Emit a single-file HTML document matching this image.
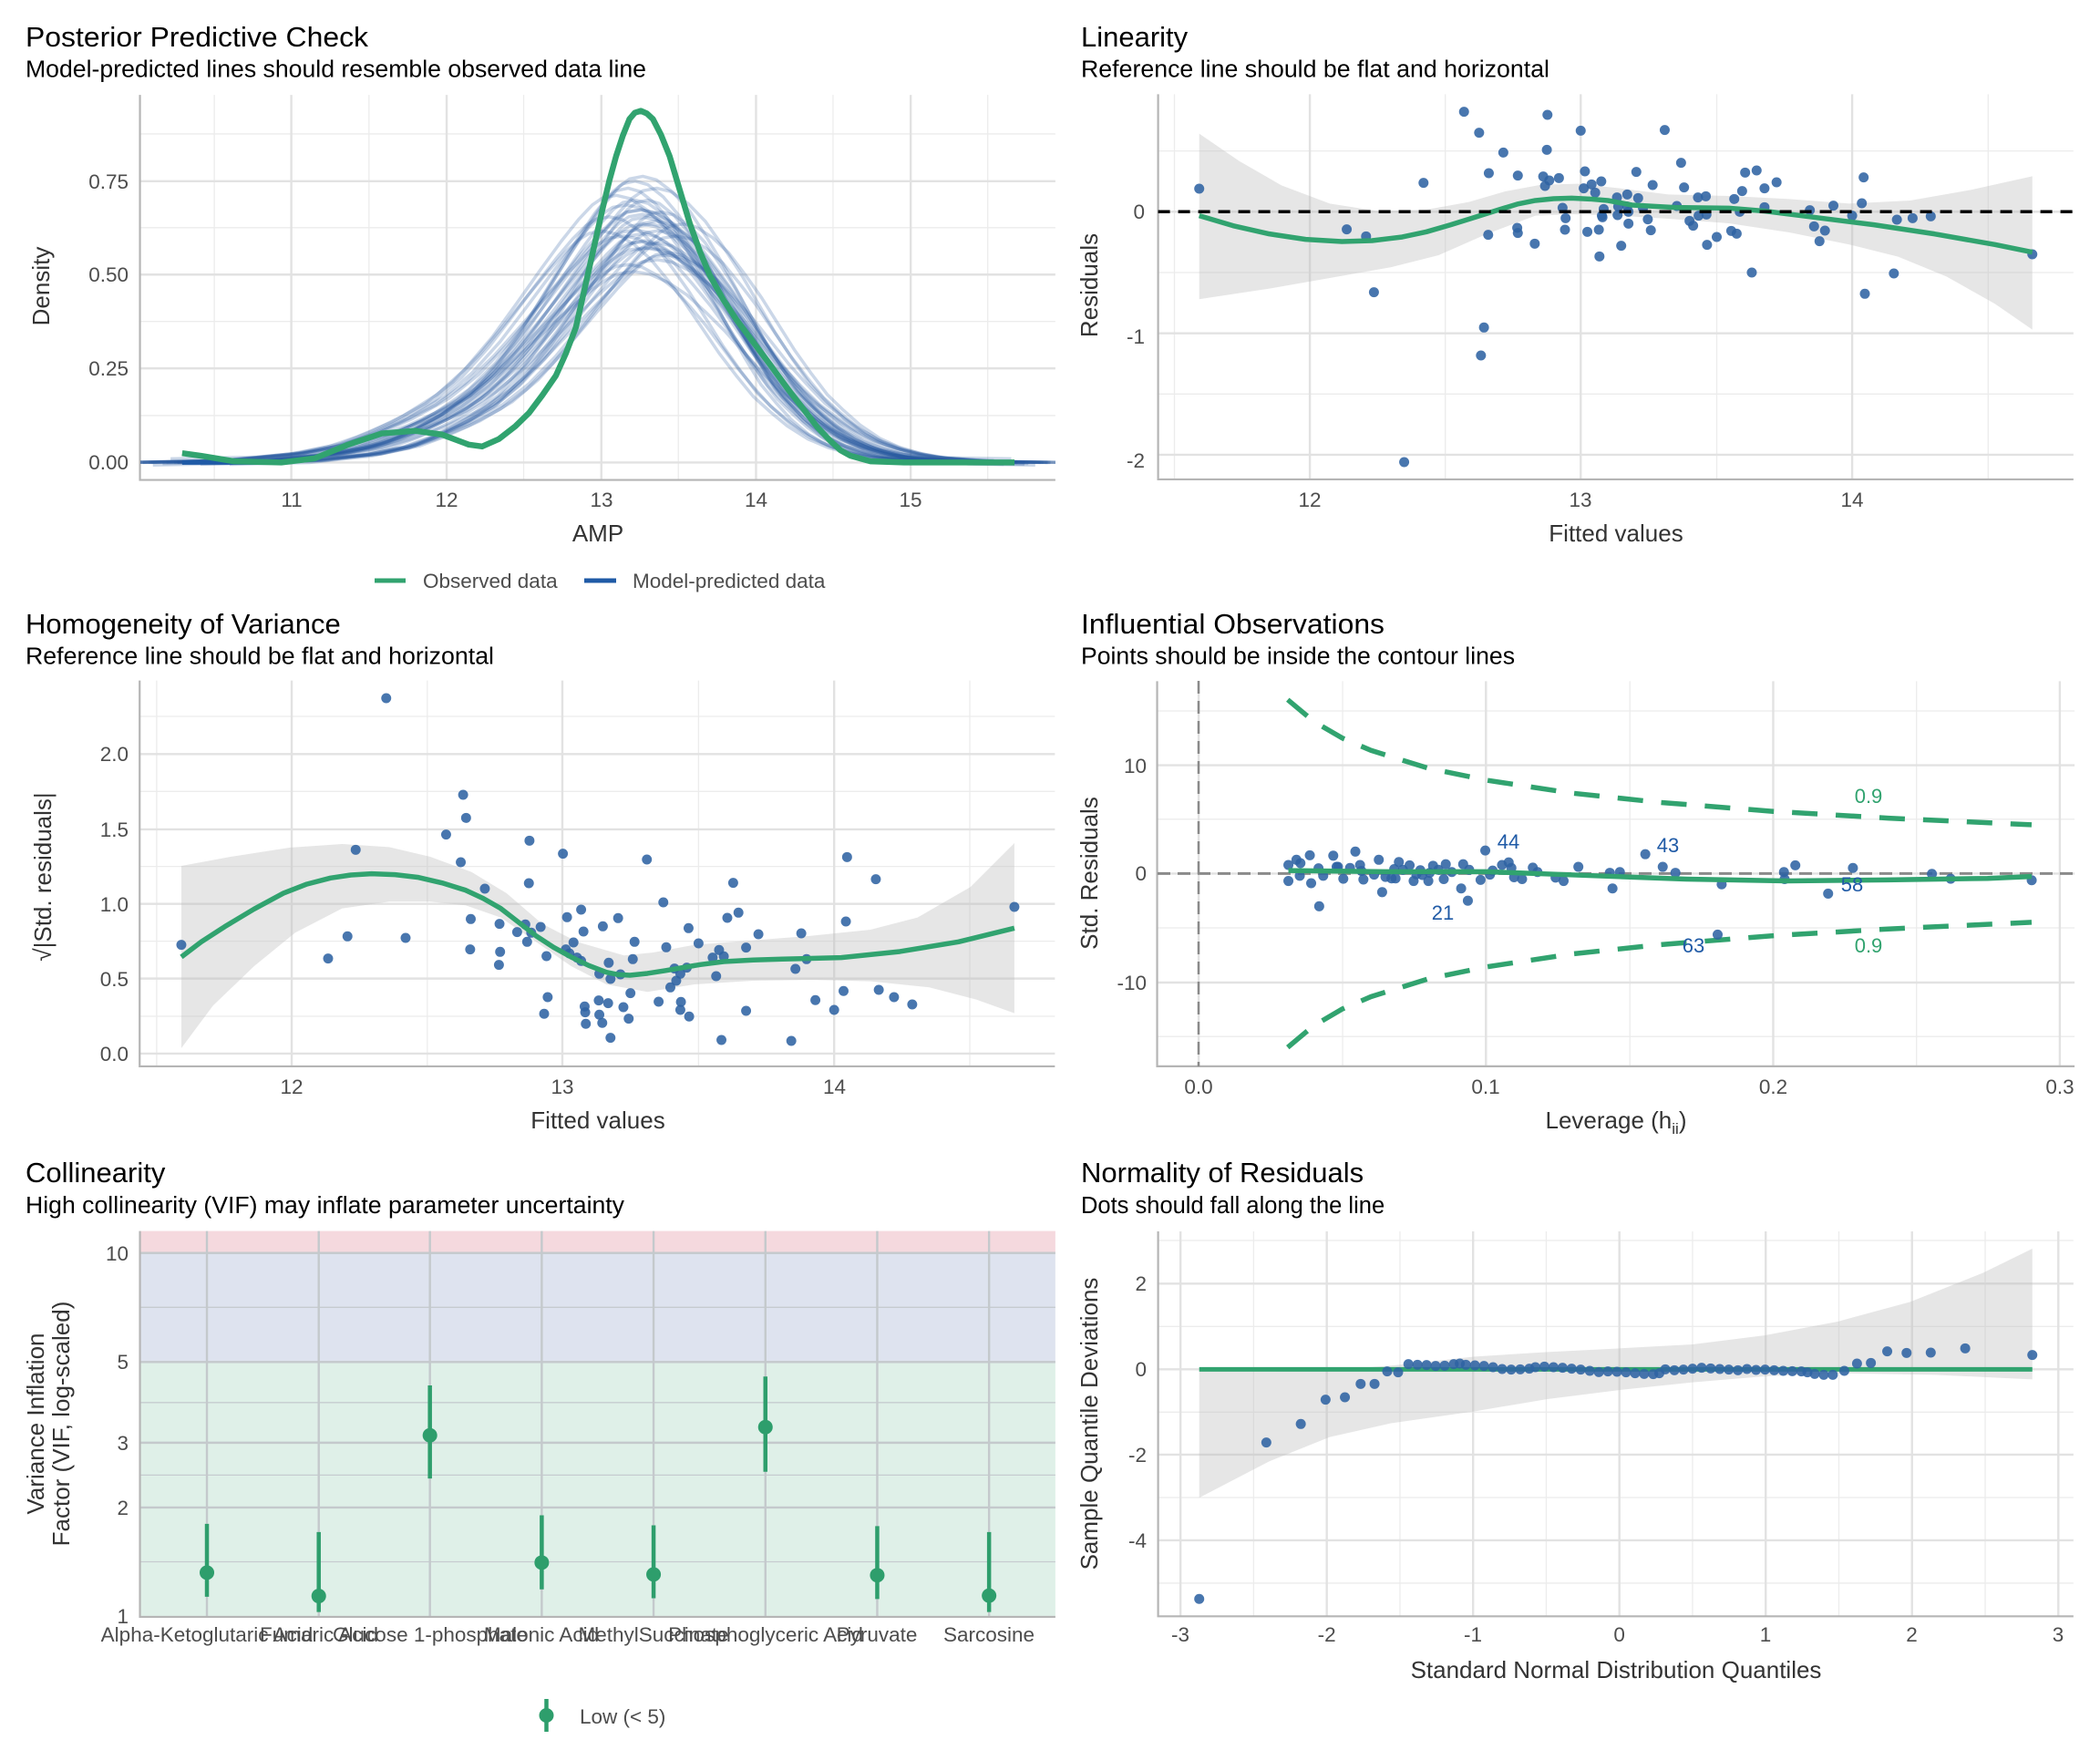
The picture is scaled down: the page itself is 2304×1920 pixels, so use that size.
<!DOCTYPE html>
<html><head><meta charset="utf-8"><style>
html,body{margin:0;padding:0;background:#fff}
svg{display:block}
text{font-family:"Liberation Sans",Arial,sans-serif}
.t{font-size:31px;fill:#000}
.s{font-size:25.5px;fill:#000}
.k{font-size:22.5px;fill:#4d4d4d}
.a{font-size:26px;fill:#333}
.gM{stroke:#e2e2e2;stroke-width:2.4;vector-effect:non-scaling-stroke;fill:none}
.gm{stroke:#ececec;stroke-width:1.3;vector-effect:non-scaling-stroke;fill:none}
.ax{stroke:#b5b5b5;stroke-width:2.2;vector-effect:non-scaling-stroke;fill:none}
.ns{vector-effect:non-scaling-stroke}
</style></head><body>
<svg width="2304" height="1920" viewBox="0 0 2304 1920" xmlns="http://www.w3.org/2000/svg">
<rect width="2304" height="1920" fill="#fff"/>
<defs>
  <clipPath id="c1"><rect x="154" y="100" width="1004" height="426"/></clipPath>
</defs>

<!-- ============ PANEL 1: PPC ============ -->
<text class="t" x="28" y="51" textLength="376" lengthAdjust="spacingAndGlyphs">Posterior Predictive Check</text>
<text class="s" x="28" y="84.5" textLength="681" lengthAdjust="spacingAndGlyphs">Model-predicted lines should resemble observed data line</text>
<g transform="matrix(0.7347 0 0 0.4082 0 0)">
  <path class="gm" d="M320 255V1290M551 255V1290M782 255V1290M1013 255V1290M1244 255V1290M1475 255V1290M209 1117H1576M209 864H1576M209 612H1576M209 360H1576"/>
  <path class="gM" d="M435 255V1290M667 255V1290M898 255V1290M1129 255V1290M1360 255V1290M209 1243H1576M209 990H1576M209 738H1576M209 487H1576"/>
  <path class="ax" d="M209 255V1290H1576"/>
</g>
<g clip-path="url(#c1)">
<g transform="matrix(0.7347 0 0 0.4082 0 0)">
  <defs>
    <polyline id="pp" fill="none" stroke="#2557a0" stroke-width="3.5" stroke-opacity="0.24" vector-effect="non-scaling-stroke" stroke-linejoin="round" points="272,1243 400,1238 500,1220 560,1198 600,1172 650,1132 700,1080 740,1020 780,942 815,862 850,780 880,712 905,660 925,625 940,608 960,602 980,610 1005,638 1030,680 1055,738 1080,800 1105,870 1130,940 1155,1002 1180,1060 1205,1103 1230,1142 1260,1178 1290,1202 1320,1218 1350,1229 1420,1240 1515,1243"/>
  </defs>
  <use href="#pp"/>
  <use href="#pp" transform="translate(37,-124.3) scale(0.95,1.1)"/>
  <use href="#pp" transform="translate(-37,124.3) scale(1.05,0.9)"/>
  <use href="#pp" transform="translate(74,-186.5) scale(0.9,1.15)"/>
  <use href="#pp" transform="translate(-74,186.5) scale(1.1,0.85)"/>
  <use href="#pp" transform="translate(0,-248.6) scale(1,1.2)"/>
  <use href="#pp" transform="translate(105.2,-62.2) scale(0.92,1.05)"/>
  <use href="#pp" transform="translate(-105.2,62.2) scale(1.08,0.95)"/>
  <use href="#pp" transform="translate(68.2,149.2) scale(0.97,0.88)"/>
  <use href="#pp" transform="translate(-68.2,-149.2) scale(1.03,1.12)"/>
  <use href="#pp" transform="translate(127.8,0) scale(0.88,1)"/>
  <use href="#pp" transform="translate(-127.8,248.6) scale(1.12,0.8)"/>
  <use href="#pp" transform="translate(72,99.4) scale(0.95,0.92)"/>
  <use href="#pp" transform="translate(-72,-99.4) scale(1.05,1.08)"/>
  <use href="#pp" transform="translate(50,62.2) scale(1,0.95)"/>
  <use href="#pp" transform="translate(-50,-37.3) scale(1,1.03)"/>
  <use href="#pp" transform="translate(99,87) scale(0.9,0.93)"/>
  <use href="#pp" transform="translate(-99,-74.6) scale(1.1,1.06)"/>
  <use href="#pp" transform="translate(55.8,-223.7) scale(0.93,1.18)"/>
  <use href="#pp" transform="translate(-30.8,161.6) scale(1.07,0.87)"/>
  <use href="#pp" transform="translate(78.8,0) scale(0.98,1)"/>
  <use href="#pp" transform="translate(-78.8,37.3) scale(1.02,0.97)"/>
  <use href="#pp" transform="translate(141.6,-124.3) scale(0.86,1.1)"/>
  <use href="#pp" transform="translate(-131.6,124.3) scale(1.14,0.9)"/>
  <use href="#pp" transform="translate(17.6,211.3) scale(0.96,0.83)"/>
  <use href="#pp" transform="translate(-17.6,-186.5) scale(1.04,1.15)"/>
  <use href="#pp" transform="translate(30,-20) scale(0.99,1.02)"/>
  <use href="#pp" transform="translate(-20,40) scale(1.01,0.96)"/>
  <use href="#pp" transform="translate(90,30) scale(0.93,0.98)"/>
  <use href="#pp" transform="translate(-60,-80) scale(1.06,1.07)"/>
  <use href="#pp" transform="translate(10,50) scale(0.99,0.96)"/>
  <use href="#pp" transform="translate(-10,-50) scale(1.01,1.04)"/>
  <use href="#pp" transform="translate(60,-30) scale(0.94,1.02)"/>
  <use href="#pp" transform="translate(-40,90) scale(1.04,0.93)"/>
  <polyline fill="none" stroke="#1f5aa6" stroke-width="5" class="ns" points="272,1243 420,1243"/>
  <polyline fill="none" stroke="#31a36f" stroke-width="6.5" class="ns" stroke-linejoin="round" points="272,1218 300,1225 350,1240 420,1243 470,1232 520,1195 570,1165 620,1158 660,1168 700,1195 720,1200 745,1180 770,1145 790,1110 810,1062 830,1010 845,950 860,880 870,800 880,720 890,640 900,560 910,485 920,420 930,365 940,320 948,303 957,298 966,305 975,320 987,362 1000,420 1015,510 1030,600 1045,675 1060,740 1080,805 1100,860 1125,920 1150,980 1175,1042 1200,1100 1220,1147 1240,1185 1255,1210 1270,1225 1300,1240 1350,1243 1515,1243"/>
</g>
</g>
<g class="k" text-anchor="end">
  <text x="141" y="515">0.00</text><text x="141" y="412">0.25</text><text x="141" y="309">0.50</text><text x="141" y="207">0.75</text>
</g>
<g class="k" text-anchor="middle">
  <text x="320" y="556">11</text><text x="490" y="556">12</text><text x="660" y="556">13</text><text x="829.5" y="556">14</text><text x="999" y="556">15</text>
</g>
<text class="a" x="656" y="594" text-anchor="middle">AMP</text>
<text class="a" transform="translate(54,314) rotate(-90)" text-anchor="middle">Density</text>
<line x1="411" y1="637" x2="445" y2="637" stroke="#31a36f" stroke-width="5"/>
<text class="k" x="464" y="645">Observed data</text>
<line x1="641" y1="637" x2="676" y2="637" stroke="#1f5aa6" stroke-width="5"/>
<text class="k" x="694" y="645">Model-predicted data</text>

<!-- ============ PANEL 2: Linearity ============ -->
<text class="t" x="1186" y="51">Linearity</text>
<text class="s" x="1186" y="84.5" textLength="514" lengthAdjust="spacingAndGlyphs">Reference line should be flat and horizontal</text>
<g transform="matrix(0.6633 0 0 0.3333 1260 100)">
  <path class="gm" d="M16 197H1530M16 597H1530M16 997H1530M43 10V1278M491 10V1278M940 10V1278M1389 10V1278"/>
  <path class="gM" d="M16 397H1530M16 797H1530M16 1197H1530M267 10V1278M715 10V1278M1164 10V1278"/>
  <path class="ax" d="M16 10V1278H1530"/>
  <polygon fill="#bdbdbd" fill-opacity="0.38" points="84,140 150,230 220,310 300,370 380,395 460,390 530,365 590,330 650,308 710,305 780,320 860,340 960,345 1060,355 1160,370 1260,360 1360,325 1462,280 1462,785 1400,700 1320,610 1240,545 1160,505 1060,465 960,435 860,420 780,410 700,405 640,410 560,470 480,540 400,580 300,615 200,650 84,685"/>
  <g fill="#2f63a3" fill-opacity="0.88">
  <ellipse cx="84" cy="321" rx="8.3" ry="16.5"/><ellipse cx="522" cy="68" rx="8.3" ry="16.5"/><ellipse cx="660" cy="78" rx="8.3" ry="16.5"/><ellipse cx="547" cy="137" rx="8.3" ry="16.5"/><ellipse cx="715" cy="130" rx="8.3" ry="16.5"/><ellipse cx="854" cy="128" rx="8.3" ry="16.5"/><ellipse cx="587" cy="202" rx="8.3" ry="16.5"/><ellipse cx="659" cy="193" rx="8.3" ry="16.5"/><ellipse cx="455" cy="302" rx="8.3" ry="16.5"/><ellipse cx="563" cy="270" rx="8.3" ry="16.5"/><ellipse cx="611" cy="278" rx="8.3" ry="16.5"/><ellipse cx="653" cy="281" rx="8.3" ry="16.5"/><ellipse cx="663" cy="294" rx="8.3" ry="16.5"/><ellipse cx="679" cy="286" rx="8.3" ry="16.5"/><ellipse cx="656" cy="312" rx="8.3" ry="16.5"/><ellipse cx="722" cy="264" rx="8.3" ry="16.5"/><ellipse cx="720" cy="320" rx="8.3" ry="16.5"/><ellipse cx="733" cy="307" rx="8.3" ry="16.5"/><ellipse cx="749" cy="297" rx="8.3" ry="16.5"/><ellipse cx="739" cy="334" rx="8.3" ry="16.5"/><ellipse cx="807" cy="266" rx="8.3" ry="16.5"/><ellipse cx="881" cy="236" rx="8.3" ry="16.5"/><ellipse cx="834" cy="309" rx="8.3" ry="16.5"/><ellipse cx="886" cy="317" rx="8.3" ry="16.5"/><ellipse cx="775" cy="350" rx="8.3" ry="16.5"/><ellipse cx="792" cy="340" rx="8.3" ry="16.5"/><ellipse cx="810" cy="352" rx="8.3" ry="16.5"/><ellipse cx="909" cy="350" rx="8.3" ry="16.5"/><ellipse cx="922" cy="346" rx="8.3" ry="16.5"/><ellipse cx="969" cy="355" rx="8.3" ry="16.5"/><ellipse cx="982" cy="329" rx="8.3" ry="16.5"/><ellipse cx="987" cy="268" rx="8.3" ry="16.5"/><ellipse cx="1006" cy="261" rx="8.3" ry="16.5"/><ellipse cx="1019" cy="320" rx="8.3" ry="16.5"/><ellipse cx="1039" cy="300" rx="8.3" ry="16.5"/><ellipse cx="685" cy="384" rx="8.3" ry="16.5"/><ellipse cx="753" cy="388" rx="8.3" ry="16.5"/><ellipse cx="777" cy="380" rx="8.3" ry="16.5"/><ellipse cx="792" cy="380" rx="8.3" ry="16.5"/><ellipse cx="818" cy="385" rx="8.3" ry="16.5"/><ellipse cx="874" cy="378" rx="8.3" ry="16.5"/><ellipse cx="1019" cy="382" rx="8.3" ry="16.5"/><ellipse cx="1094" cy="392" rx="8.3" ry="16.5"/><ellipse cx="1133" cy="377" rx="8.3" ry="16.5"/><ellipse cx="1180" cy="369" rx="8.3" ry="16.5"/><ellipse cx="1183" cy="284" rx="8.3" ry="16.5"/><ellipse cx="690" cy="418" rx="8.3" ry="16.5"/><ellipse cx="750" cy="410" rx="8.3" ry="16.5"/><ellipse cx="751" cy="415" rx="8.3" ry="16.5"/><ellipse cx="776" cy="408" rx="8.3" ry="16.5"/><ellipse cx="794" cy="397" rx="8.3" ry="16.5"/><ellipse cx="826" cy="422" rx="8.3" ry="16.5"/><ellipse cx="895" cy="427" rx="8.3" ry="16.5"/><ellipse cx="910" cy="410" rx="8.3" ry="16.5"/><ellipse cx="923" cy="406" rx="8.3" ry="16.5"/><ellipse cx="978" cy="397" rx="8.3" ry="16.5"/><ellipse cx="1164" cy="410" rx="8.3" ry="16.5"/><ellipse cx="1238" cy="423" rx="8.3" ry="16.5"/><ellipse cx="1264" cy="418" rx="8.3" ry="16.5"/><ellipse cx="1294" cy="412" rx="8.3" ry="16.5"/><ellipse cx="328" cy="455" rx="8.3" ry="16.5"/><ellipse cx="360" cy="478" rx="8.3" ry="16.5"/><ellipse cx="562" cy="473" rx="8.3" ry="16.5"/><ellipse cx="610" cy="450" rx="8.3" ry="16.5"/><ellipse cx="611" cy="467" rx="8.3" ry="16.5"/><ellipse cx="639" cy="502" rx="8.3" ry="16.5"/><ellipse cx="689" cy="456" rx="8.3" ry="16.5"/><ellipse cx="726" cy="463" rx="8.3" ry="16.5"/><ellipse cx="745" cy="456" rx="8.3" ry="16.5"/><ellipse cx="746" cy="544" rx="8.3" ry="16.5"/><ellipse cx="782" cy="509" rx="8.3" ry="16.5"/><ellipse cx="794" cy="436" rx="8.3" ry="16.5"/><ellipse cx="831" cy="458" rx="8.3" ry="16.5"/><ellipse cx="901" cy="443" rx="8.3" ry="16.5"/><ellipse cx="924" cy="506" rx="8.3" ry="16.5"/><ellipse cx="940" cy="480" rx="8.3" ry="16.5"/><ellipse cx="964" cy="460" rx="8.3" ry="16.5"/><ellipse cx="973" cy="469" rx="8.3" ry="16.5"/><ellipse cx="1101" cy="445" rx="8.3" ry="16.5"/><ellipse cx="1110" cy="494" rx="8.3" ry="16.5"/><ellipse cx="1119" cy="459" rx="8.3" ry="16.5"/><ellipse cx="998" cy="597" rx="8.3" ry="16.5"/><ellipse cx="1233" cy="600" rx="8.3" ry="16.5"/><ellipse cx="1185" cy="667" rx="8.3" ry="16.5"/><ellipse cx="373" cy="662" rx="8.3" ry="16.5"/><ellipse cx="1462" cy="537" rx="8.3" ry="16.5"/><ellipse cx="555" cy="778" rx="8.3" ry="16.5"/><ellipse cx="550" cy="870" rx="8.3" ry="16.5"/><ellipse cx="423" cy="1221" rx="8.3" ry="16.5"/>
  </g>
  <polyline fill="none" stroke="#31a36f" stroke-width="5.5" class="ns" stroke-linejoin="round" points="84,410 140,443 200,470 260,488 320,495 370,492 420,480 460,463 500,440 540,415 580,390 610,372 640,360 670,354 700,352 730,355 760,360 800,375 870,383 960,385 1020,395 1100,415 1200,440 1300,470 1400,505 1462,530"/>
</g>
<line x1="1270.6" y1="232.3" x2="2274.6" y2="232.3" stroke="#000" stroke-width="3.5" stroke-dasharray="13 9"/>
<g class="k" text-anchor="end">
  <text x="1256" y="240">0</text><text x="1256" y="377">-1</text><text x="1256" y="513">-2</text>
</g>
<g class="k" text-anchor="middle">
  <text x="1437" y="556">12</text><text x="1734" y="556">13</text><text x="2032" y="556">14</text>
</g>
<text class="a" x="1773" y="594" text-anchor="middle">Fitted values</text>
<text class="a" transform="translate(1204,313) rotate(-90)" text-anchor="middle">Residuals</text>

<!-- ============ PANEL 3: Homogeneity ============ -->
<text class="t" x="28" y="695">Homogeneity of Variance</text>
<text class="s" x="28" y="728.6" textLength="514" lengthAdjust="spacingAndGlyphs">Reference line should be flat and horizontal</text>
<g transform="matrix(0.6441 0 0 0.3333 150 740)">
  <path class="gm" d="M5 1125H1564M5 878H1564M5 632H1564M5 385H1564M5 138H1564M34 20V1290M495 20V1290M957 20V1290M1419 20V1290"/>
  <path class="gM" d="M5 1248H1564M5 1001H1564M5 755H1564M5 510H1564M5 262H1564M264 20V1290M725 20V1290M1188 20V1290"/>
  <path class="ax" d="M5 20V1290H1564"/>
  <polygon fill="#bdbdbd" fill-opacity="0.38" points="76,630 160,600 260,570 350,558 430,568 500,600 570,650 630,720 690,820 750,880 830,925 880,915 950,890 1050,875 1150,860 1250,840 1330,800 1420,700 1495,555 1495,1115 1430,1070 1350,1030 1250,1010 1150,1005 1050,1008 950,1020 870,1045 800,1020 740,960 680,880 620,800 560,760 500,748 430,748 350,770 270,850 200,960 130,1090 76,1230"/>
  <g fill="#2f63a3" fill-opacity="0.88">
  <ellipse cx="425" cy="78" rx="8.5" ry="16.5"/><ellipse cx="556" cy="396" rx="8.5" ry="16.5"/><ellipse cx="561" cy="472" rx="8.5" ry="16.5"/><ellipse cx="527" cy="527" rx="8.5" ry="16.5"/><ellipse cx="669" cy="547" rx="8.5" ry="16.5"/><ellipse cx="726" cy="590" rx="8.5" ry="16.5"/><ellipse cx="869" cy="609" rx="8.5" ry="16.5"/><ellipse cx="373" cy="577" rx="8.5" ry="16.5"/><ellipse cx="552" cy="618" rx="8.5" ry="16.5"/><ellipse cx="1210" cy="601" rx="8.5" ry="16.5"/><ellipse cx="1259" cy="674" rx="8.5" ry="16.5"/><ellipse cx="593" cy="705" rx="8.5" ry="16.5"/><ellipse cx="668" cy="687" rx="8.5" ry="16.5"/><ellipse cx="1016" cy="686" rx="8.5" ry="16.5"/><ellipse cx="897" cy="750" rx="8.5" ry="16.5"/><ellipse cx="757" cy="774" rx="8.5" ry="16.5"/><ellipse cx="733" cy="799" rx="8.5" ry="16.5"/><ellipse cx="820" cy="802" rx="8.5" ry="16.5"/><ellipse cx="1006" cy="801" rx="8.5" ry="16.5"/><ellipse cx="1025" cy="784" rx="8.5" ry="16.5"/><ellipse cx="1495" cy="765" rx="8.5" ry="16.5"/><ellipse cx="569" cy="805" rx="8.5" ry="16.5"/><ellipse cx="618" cy="821" rx="8.5" ry="16.5"/><ellipse cx="662" cy="823" rx="8.5" ry="16.5"/><ellipse cx="688" cy="831" rx="8.5" ry="16.5"/><ellipse cx="794" cy="829" rx="8.5" ry="16.5"/><ellipse cx="940" cy="835" rx="8.5" ry="16.5"/><ellipse cx="648" cy="848" rx="8.5" ry="16.5"/><ellipse cx="672" cy="850" rx="8.5" ry="16.5"/><ellipse cx="761" cy="846" rx="8.5" ry="16.5"/><ellipse cx="1059" cy="855" rx="8.5" ry="16.5"/><ellipse cx="1132" cy="852" rx="8.5" ry="16.5"/><ellipse cx="76" cy="890" rx="8.5" ry="16.5"/><ellipse cx="359" cy="862" rx="8.5" ry="16.5"/><ellipse cx="458" cy="867" rx="8.5" ry="16.5"/><ellipse cx="665" cy="880" rx="8.5" ry="16.5"/><ellipse cx="744" cy="882" rx="8.5" ry="16.5"/><ellipse cx="848" cy="880" rx="8.5" ry="16.5"/><ellipse cx="902" cy="898" rx="8.5" ry="16.5"/><ellipse cx="957" cy="885" rx="8.5" ry="16.5"/><ellipse cx="1038" cy="899" rx="8.5" ry="16.5"/><ellipse cx="1208" cy="813" rx="8.5" ry="16.5"/><ellipse cx="326" cy="935" rx="8.5" ry="16.5"/><ellipse cx="568" cy="905" rx="8.5" ry="16.5"/><ellipse cx="619" cy="913" rx="8.5" ry="16.5"/><ellipse cx="698" cy="927" rx="8.5" ry="16.5"/><ellipse cx="731" cy="905" rx="8.5" ry="16.5"/><ellipse cx="737" cy="918" rx="8.5" ry="16.5"/><ellipse cx="750" cy="932" rx="8.5" ry="16.5"/><ellipse cx="757" cy="943" rx="8.5" ry="16.5"/><ellipse cx="804" cy="949" rx="8.5" ry="16.5"/><ellipse cx="845" cy="937" rx="8.5" ry="16.5"/><ellipse cx="992" cy="907" rx="8.5" ry="16.5"/><ellipse cx="981" cy="932" rx="8.5" ry="16.5"/><ellipse cx="1000" cy="928" rx="8.5" ry="16.5"/><ellipse cx="1141" cy="937" rx="8.5" ry="16.5"/><ellipse cx="617" cy="956" rx="8.5" ry="16.5"/><ellipse cx="788" cy="985" rx="8.5" ry="16.5"/><ellipse cx="807" cy="1002" rx="8.5" ry="16.5"/><ellipse cx="824" cy="987" rx="8.5" ry="16.5"/><ellipse cx="916" cy="968" rx="8.5" ry="16.5"/><ellipse cx="926" cy="985" rx="8.5" ry="16.5"/><ellipse cx="937" cy="965" rx="8.5" ry="16.5"/><ellipse cx="919" cy="1008" rx="8.5" ry="16.5"/><ellipse cx="987" cy="993" rx="8.5" ry="16.5"/><ellipse cx="1122" cy="969" rx="8.5" ry="16.5"/><ellipse cx="909" cy="1030" rx="8.5" ry="16.5"/><ellipse cx="841" cy="1049" rx="8.5" ry="16.5"/><ellipse cx="700" cy="1062" rx="8.5" ry="16.5"/><ellipse cx="787" cy="1073" rx="8.5" ry="16.5"/><ellipse cx="803" cy="1082" rx="8.5" ry="16.5"/><ellipse cx="829" cy="1095" rx="8.5" ry="16.5"/><ellipse cx="889" cy="1077" rx="8.5" ry="16.5"/><ellipse cx="927" cy="1078" rx="8.5" ry="16.5"/><ellipse cx="926" cy="1104" rx="8.5" ry="16.5"/><ellipse cx="1156" cy="1072" rx="8.5" ry="16.5"/><ellipse cx="1204" cy="1042" rx="8.5" ry="16.5"/><ellipse cx="1264" cy="1038" rx="8.5" ry="16.5"/><ellipse cx="1290" cy="1062" rx="8.5" ry="16.5"/><ellipse cx="1321" cy="1086" rx="8.5" ry="16.5"/><ellipse cx="1188" cy="1104" rx="8.5" ry="16.5"/><ellipse cx="1038" cy="1107" rx="8.5" ry="16.5"/><ellipse cx="694" cy="1117" rx="8.5" ry="16.5"/><ellipse cx="763" cy="1093" rx="8.5" ry="16.5"/><ellipse cx="764" cy="1112" rx="8.5" ry="16.5"/><ellipse cx="788" cy="1120" rx="8.5" ry="16.5"/><ellipse cx="838" cy="1133" rx="8.5" ry="16.5"/><ellipse cx="941" cy="1126" rx="8.5" ry="16.5"/><ellipse cx="765" cy="1150" rx="8.5" ry="16.5"/><ellipse cx="793" cy="1147" rx="8.5" ry="16.5"/><ellipse cx="807" cy="1196" rx="8.5" ry="16.5"/><ellipse cx="996" cy="1203" rx="8.5" ry="16.5"/><ellipse cx="1115" cy="1206" rx="8.5" ry="16.5"/>
  </g>
  <polyline fill="none" stroke="#31a36f" stroke-width="5.5" class="ns" stroke-linejoin="round" points="76,930 110,880 150,830 200,772 250,720 290,690 330,670 365,660 400,656 440,659 480,668 520,686 560,710 590,737 620,770 650,815 680,860 710,898 740,930 770,958 800,980 820,988 840,990 870,984 900,975 930,965 960,955 1000,945 1050,940 1100,937 1200,932 1300,912 1400,880 1495,835"/>
</g>
<g class="k" text-anchor="end">
  <text x="141" y="1164">0.0</text><text x="141" y="1082">0.5</text><text x="141" y="1000">1.0</text><text x="141" y="918">1.5</text><text x="141" y="835">2.0</text>
</g>
<g class="k" text-anchor="middle">
  <text x="320" y="1200">12</text><text x="617" y="1200">13</text><text x="915.5" y="1200">14</text>
</g>
<text class="a" x="656" y="1238" text-anchor="middle">Fitted values</text>
<text class="a" transform="translate(56,962) rotate(-90)" text-anchor="middle">√|Std. residuals|</text>

<!-- ============ PANEL 4: Influential ============ -->
<text class="t" x="1186" y="695" textLength="333" lengthAdjust="spacingAndGlyphs">Influential Observations</text>
<text class="s" x="1186" y="728.6" textLength="476" lengthAdjust="spacingAndGlyphs">Points should be inside the contour lines</text>
<g transform="matrix(0.7347 0 0 0.4082 1152 640)">
  <path class="gm" d="M160 343H1530M160 634H1530M160 926H1530M160 1218H1530M437 263V1298M866 263V1298M1294 263V1298"/>
  <path class="gM" d="M160 489H1530M160 780H1530M160 1073H1530M222 263V1298M651 263V1298M1080 263V1298M1508 263V1298"/>
  <path class="ax" d="M160 263V1298H1530"/>
</g>
<line x1="1315" y1="747" x2="1315" y2="1170" stroke="#8a8a8a" stroke-width="2.5" stroke-dasharray="14 8"/>
<line x1="1270" y1="958.4" x2="2276" y2="958.4" stroke="#8a8a8a" stroke-width="3" stroke-dasharray="14 8"/>
<polyline fill="none" stroke="#31a36f" stroke-width="5.5" stroke-dasharray="28 20" points="1412.8,767.7 1441.2,791.4 1472.7,809.8 1504.2,823.3 1567.1,842.9 1630.3,855.9 1724.9,870.2 1819.4,880.2 1945.5,890.2 2071.6,897.6 2229,904.9"/>
<polyline fill="none" stroke="#31a36f" stroke-width="5.5" stroke-dasharray="28 20" points="1412.8,1149.1 1441.2,1125.4 1472.7,1107 1504.2,1093.5 1567.1,1073.9 1630.3,1060.9 1724.9,1046.6 1819.4,1036.6 1945.5,1026.6 2071.6,1019.2 2229,1011.9"/>
<g transform="matrix(0.7347 0 0 0.4082 1152 640)">
  <g fill="#2f63a3" fill-opacity="0.88">
  <ellipse cx="356" cy="757" rx="7.5" ry="13.5"/><ellipse cx="356" cy="800" rx="7.5" ry="13.5"/><ellipse cx="368" cy="743" rx="7.5" ry="13.5"/><ellipse cx="374" cy="752" rx="7.5" ry="13.5"/><ellipse cx="373" cy="786" rx="7.5" ry="13.5"/><ellipse cx="388" cy="731" rx="7.5" ry="13.5"/><ellipse cx="390" cy="806" rx="7.5" ry="13.5"/><ellipse cx="401" cy="766" rx="7.5" ry="13.5"/><ellipse cx="402" cy="868" rx="7.5" ry="13.5"/><ellipse cx="408" cy="786" rx="7.5" ry="13.5"/><ellipse cx="423" cy="732" rx="7.5" ry="13.5"/><ellipse cx="428" cy="762" rx="7.5" ry="13.5"/><ellipse cx="430" cy="762" rx="7.5" ry="13.5"/><ellipse cx="438" cy="794" rx="7.5" ry="13.5"/><ellipse cx="448" cy="765" rx="7.5" ry="13.5"/><ellipse cx="456" cy="721" rx="7.5" ry="13.5"/><ellipse cx="463" cy="757" rx="7.5" ry="13.5"/><ellipse cx="465" cy="773" rx="7.5" ry="13.5"/><ellipse cx="468" cy="796" rx="7.5" ry="13.5"/><ellipse cx="484" cy="783" rx="7.5" ry="13.5"/><ellipse cx="491" cy="743" rx="7.5" ry="13.5"/><ellipse cx="496" cy="830" rx="7.5" ry="13.5"/><ellipse cx="501" cy="789" rx="7.5" ry="13.5"/><ellipse cx="510" cy="793" rx="7.5" ry="13.5"/><ellipse cx="514" cy="768" rx="7.5" ry="13.5"/><ellipse cx="516" cy="793" rx="7.5" ry="13.5"/><ellipse cx="521" cy="749" rx="7.5" ry="13.5"/><ellipse cx="527" cy="770" rx="7.5" ry="13.5"/><ellipse cx="537" cy="758" rx="7.5" ry="13.5"/><ellipse cx="543" cy="800" rx="7.5" ry="13.5"/><ellipse cx="547" cy="782" rx="7.5" ry="13.5"/><ellipse cx="553" cy="771" rx="7.5" ry="13.5"/><ellipse cx="556" cy="784" rx="7.5" ry="13.5"/><ellipse cx="565" cy="800" rx="7.5" ry="13.5"/><ellipse cx="567" cy="778" rx="7.5" ry="13.5"/><ellipse cx="572" cy="759" rx="7.5" ry="13.5"/><ellipse cx="580" cy="770" rx="7.5" ry="13.5"/><ellipse cx="588" cy="795" rx="7.5" ry="13.5"/><ellipse cx="591" cy="755" rx="7.5" ry="13.5"/><ellipse cx="600" cy="776" rx="7.5" ry="13.5"/><ellipse cx="614" cy="820" rx="7.5" ry="13.5"/><ellipse cx="617" cy="755" rx="7.5" ry="13.5"/><ellipse cx="624" cy="853" rx="7.5" ry="13.5"/><ellipse cx="626" cy="770" rx="7.5" ry="13.5"/><ellipse cx="643" cy="797" rx="7.5" ry="13.5"/><ellipse cx="650" cy="718" rx="7.5" ry="13.5"/><ellipse cx="657" cy="783" rx="7.5" ry="13.5"/><ellipse cx="661" cy="772" rx="7.5" ry="13.5"/><ellipse cx="675" cy="757" rx="7.5" ry="13.5"/><ellipse cx="685" cy="750" rx="7.5" ry="13.5"/><ellipse cx="689" cy="765" rx="7.5" ry="13.5"/><ellipse cx="693" cy="790" rx="7.5" ry="13.5"/><ellipse cx="705" cy="795" rx="7.5" ry="13.5"/><ellipse cx="721" cy="764" rx="7.5" ry="13.5"/><ellipse cx="728" cy="776" rx="7.5" ry="13.5"/><ellipse cx="755" cy="791" rx="7.5" ry="13.5"/><ellipse cx="767" cy="800" rx="7.5" ry="13.5"/><ellipse cx="789" cy="762" rx="7.5" ry="13.5"/><ellipse cx="836" cy="778" rx="7.5" ry="13.5"/><ellipse cx="840" cy="820" rx="7.5" ry="13.5"/><ellipse cx="851" cy="776" rx="7.5" ry="13.5"/><ellipse cx="889" cy="728" rx="7.5" ry="13.5"/><ellipse cx="915" cy="762" rx="7.5" ry="13.5"/><ellipse cx="934" cy="778" rx="7.5" ry="13.5"/><ellipse cx="1003" cy="809" rx="7.5" ry="13.5"/><ellipse cx="1096" cy="776" rx="7.5" ry="13.5"/><ellipse cx="1097" cy="795" rx="7.5" ry="13.5"/><ellipse cx="1113" cy="758" rx="7.5" ry="13.5"/><ellipse cx="1162" cy="834" rx="7.5" ry="13.5"/><ellipse cx="1199" cy="765" rx="7.5" ry="13.5"/><ellipse cx="1317" cy="781" rx="7.5" ry="13.5"/><ellipse cx="1345" cy="794" rx="7.5" ry="13.5"/><ellipse cx="997" cy="944" rx="7.5" ry="13.5"/><ellipse cx="1466" cy="798" rx="7.5" ry="13.5"/>
  </g>
  <polyline fill="none" stroke="#31a36f" stroke-width="5.5" class="ns" stroke-linejoin="round" points="356,772 500,775 650,775 800,785 950,795 1100,800 1250,797 1400,793 1466,788"/>
</g>
<g font-size="22" fill="#1f5aa6" text-anchor="middle">
  <text x="1655" y="931">44</text><text x="1830" y="935">43</text><text x="1583" y="1009">21</text><text x="2032" y="978">58</text><text x="1858" y="1045">63</text>
</g>
<g font-size="22" fill="#31a36f" text-anchor="middle">
  <text x="2050" y="881">0.9</text><text x="2050" y="1045">0.9</text>
</g>
<g class="k" text-anchor="end">
  <text x="1258" y="848">10</text><text x="1258" y="966">0</text><text x="1258" y="1086">-10</text>
</g>
<g class="k" text-anchor="middle">
  <text x="1315" y="1200">0.0</text><text x="1630" y="1200">0.1</text><text x="1945.5" y="1200">0.2</text><text x="2260" y="1200">0.3</text>
</g>
<text class="a" x="1773" y="1238" text-anchor="middle">Leverage (h<tspan font-size="17" dy="6">ii</tspan><tspan dy="-6">)</tspan></text>
<text class="a" transform="translate(1204,958) rotate(-90)" text-anchor="middle">Std. Residuals</text>

<!-- ============ PANEL 5: Collinearity ============ -->
<text class="t" x="28" y="1297">Collinearity</text>
<text class="s" x="28" y="1331" textLength="657" lengthAdjust="spacingAndGlyphs">High collinearity (VIF) may inflate parameter uncertainty</text>
<g transform="matrix(0.7347 0 0 0.4082 0 1280)">
  <rect x="209" y="173" width="1367" height="59" fill="#f5d9de"/>
  <rect x="209" y="232" width="1367" height="293" fill="#dee3ef"/>
  <rect x="209" y="525" width="1367" height="685" fill="#dff0e8"/>
  <path class="ns" stroke="#c6cbcf" stroke-width="1.3" fill="none" d="M209 378H1576M209 634H1576M209 829H1576M209 1062H1576"/>
  <path class="ns" stroke="#c4c9cc" stroke-width="2.4" fill="none" d="M209 232H1576M209 525H1576M209 742H1576M209 916H1576M309 173V1208M476 173V1208M642 173V1208M809 173V1208M976 173V1208M1143 173V1208M1310 173V1208M1477 173V1208"/>
  <path class="ax" d="M209 173V1210H1576"/>
  <g stroke="#2e9e6c" stroke-width="4.5" class="ns">
    <line x1="309" y1="960" x2="309" y2="1156" class="ns"/>
    <line x1="476" y1="982" x2="476" y2="1197" class="ns"/>
    <line x1="642" y1="588" x2="642" y2="838" class="ns"/>
    <line x1="809" y1="937" x2="809" y2="1136" class="ns"/>
    <line x1="976" y1="964" x2="976" y2="1160" class="ns"/>
    <line x1="1143" y1="564" x2="1143" y2="820" class="ns"/>
    <line x1="1310" y1="966" x2="1310" y2="1162" class="ns"/>
    <line x1="1477" y1="982" x2="1477" y2="1197" class="ns"/>
  </g>
  <g fill="#2e9e6c">
    <ellipse cx="309" cy="1091" rx="10.9" ry="19.6"/><ellipse cx="476" cy="1154" rx="10.9" ry="19.6"/><ellipse cx="642" cy="722" rx="10.9" ry="19.6"/><ellipse cx="809" cy="1064" rx="10.9" ry="19.6"/><ellipse cx="976" cy="1096" rx="10.9" ry="19.6"/><ellipse cx="1143" cy="700" rx="10.9" ry="19.6"/><ellipse cx="1310" cy="1098" rx="10.9" ry="19.6"/><ellipse cx="1477" cy="1153" rx="10.9" ry="19.6"/>
  </g>
</g>
<g class="k" text-anchor="end">
  <text x="141" y="1383">10</text><text x="141" y="1502">5</text><text x="141" y="1591">3</text><text x="141" y="1662">2</text><text x="141" y="1781">1</text>
</g>
<g class="k" text-anchor="middle">
  <text x="227" y="1801">Alpha-Ketoglutaric Acid</text><text x="350" y="1801">Fumaric Acid</text><text x="472" y="1801">Glucose 1-phosphate</text><text x="594" y="1801">Malonic Acid</text><text x="717" y="1801">MethylSuccinate</text><text x="840" y="1801">Phosphoglyceric Acid</text><text x="962" y="1801">Pyruvate</text><text x="1085" y="1801">Sarcosine</text>
</g>
<text class="a" transform="translate(48,1562) rotate(-90)" text-anchor="middle">Variance Inflation</text>
<text class="a" transform="translate(76,1562) rotate(-90)" text-anchor="middle">Factor (VIF, log-scaled)</text>
<line x1="599.5" y1="1864" x2="599.5" y2="1900" stroke="#2e9e6c" stroke-width="4.5"/>
<circle cx="599.5" cy="1882" r="8" fill="#2e9e6c"/>
<text class="k" x="636" y="1891">Low (&lt; 5)</text>

<!-- ============ PANEL 6: Normality ============ -->
<text class="t" x="1186" y="1297">Normality of Residuals</text>
<text class="s" x="1186" y="1331">Dots should fall along the line</text>
<g transform="matrix(0.6633 0 0 0.3333 1260 1340)">
  <path class="gm" d="M16 63H1530M16 346H1530M16 628H1530M16 909H1530M16 1191H1530M174 33V1300M416 33V1300M658 33V1300M900 33V1300M1142 33V1300M1384 33V1300"/>
  <path class="gM" d="M16 205H1530M16 487H1530M16 768H1530M16 1050H1530M53 33V1300M295 33V1300M537 33V1300M779 33V1300M1021 33V1300M1263 33V1300M1505 33V1300"/>
  <path class="ax" d="M16 33V1300H1530"/>
  <polygon fill="#bdbdbd" fill-opacity="0.38" points="84,493 200,495 300,490 400,475 540,445 660,430 780,418 900,405 1020,375 1140,330 1260,265 1380,170 1462,90 1462,520 1300,505 1140,500 1020,510 900,530 780,555 660,585 540,625 400,665 300,710 200,790 84,910"/>
  <polyline fill="none" stroke="#31a36f" stroke-width="5" class="ns" points="84,487 1462,487"/>
  <g fill="#2f63a3" fill-opacity="0.88">
  <ellipse cx="84" cy="1243" rx="8.3" ry="16.5"/><ellipse cx="195" cy="728" rx="8.3" ry="16.5"/><ellipse cx="252" cy="667" rx="8.3" ry="16.5"/><ellipse cx="293" cy="587" rx="8.3" ry="16.5"/><ellipse cx="325" cy="579" rx="8.3" ry="16.5"/><ellipse cx="351" cy="535" rx="8.3" ry="16.5"/><ellipse cx="374" cy="535" rx="8.3" ry="16.5"/><ellipse cx="395" cy="494" rx="8.3" ry="16.5"/><ellipse cx="413" cy="497" rx="8.3" ry="16.5"/>
  <ellipse cx="430" cy="470" rx="8.3" ry="16.5"/><ellipse cx="445" cy="472" rx="8.3" ry="16.5"/><ellipse cx="460" cy="473" rx="8.3" ry="16.5"/><ellipse cx="475" cy="476" rx="8.3" ry="16.5"/><ellipse cx="490" cy="475" rx="8.3" ry="16.5"/><ellipse cx="505" cy="470" rx="8.3" ry="16.5"/><ellipse cx="515" cy="468" rx="8.3" ry="16.5"/><ellipse cx="525" cy="472" rx="8.3" ry="16.5"/><ellipse cx="540" cy="474" rx="8.3" ry="16.5"/><ellipse cx="555" cy="476" rx="8.3" ry="16.5"/><ellipse cx="570" cy="480" rx="8.3" ry="16.5"/><ellipse cx="585" cy="486" rx="8.3" ry="16.5"/><ellipse cx="600" cy="488" rx="8.3" ry="16.5"/><ellipse cx="615" cy="487" rx="8.3" ry="16.5"/><ellipse cx="630" cy="485" rx="8.3" ry="16.5"/><ellipse cx="640" cy="480" rx="8.3" ry="16.5"/><ellipse cx="655" cy="478" rx="8.3" ry="16.5"/><ellipse cx="670" cy="480" rx="8.3" ry="16.5"/><ellipse cx="685" cy="482" rx="8.3" ry="16.5"/><ellipse cx="700" cy="485" rx="8.3" ry="16.5"/><ellipse cx="715" cy="488" rx="8.3" ry="16.5"/><ellipse cx="730" cy="492" rx="8.3" ry="16.5"/><ellipse cx="745" cy="496" rx="8.3" ry="16.5"/><ellipse cx="760" cy="494" rx="8.3" ry="16.5"/><ellipse cx="775" cy="495" rx="8.3" ry="16.5"/><ellipse cx="790" cy="497" rx="8.3" ry="16.5"/><ellipse cx="805" cy="500" rx="8.3" ry="16.5"/><ellipse cx="820" cy="502" rx="8.3" ry="16.5"/><ellipse cx="835" cy="503" rx="8.3" ry="16.5"/><ellipse cx="845" cy="500" rx="8.3" ry="16.5"/><ellipse cx="855" cy="487" rx="8.3" ry="16.5"/><ellipse cx="870" cy="490" rx="8.3" ry="16.5"/><ellipse cx="885" cy="488" rx="8.3" ry="16.5"/><ellipse cx="900" cy="485" rx="8.3" ry="16.5"/><ellipse cx="915" cy="482" rx="8.3" ry="16.5"/><ellipse cx="930" cy="484" rx="8.3" ry="16.5"/><ellipse cx="945" cy="486" rx="8.3" ry="16.5"/><ellipse cx="960" cy="488" rx="8.3" ry="16.5"/><ellipse cx="975" cy="490" rx="8.3" ry="16.5"/><ellipse cx="990" cy="486" rx="8.3" ry="16.5"/><ellipse cx="1005" cy="489" rx="8.3" ry="16.5"/><ellipse cx="1020" cy="488" rx="8.3" ry="16.5"/><ellipse cx="1035" cy="490" rx="8.3" ry="16.5"/><ellipse cx="1050" cy="492" rx="8.3" ry="16.5"/><ellipse cx="1065" cy="493" rx="8.3" ry="16.5"/><ellipse cx="1080" cy="494" rx="8.3" ry="16.5"/><ellipse cx="1090" cy="497" rx="8.3" ry="16.5"/><ellipse cx="1102" cy="502" rx="8.3" ry="16.5"/><ellipse cx="1117" cy="505" rx="8.3" ry="16.5"/><ellipse cx="1132" cy="505" rx="8.3" ry="16.5"/><ellipse cx="1151" cy="492" rx="8.3" ry="16.5"/><ellipse cx="1172" cy="468" rx="8.3" ry="16.5"/><ellipse cx="1195" cy="466" rx="8.3" ry="16.5"/><ellipse cx="1222" cy="428" rx="8.3" ry="16.5"/><ellipse cx="1254" cy="433" rx="8.3" ry="16.5"/><ellipse cx="1294" cy="432" rx="8.3" ry="16.5"/><ellipse cx="1351" cy="418" rx="8.3" ry="16.5"/><ellipse cx="1462" cy="440" rx="8.3" ry="16.5"/>
  </g>
</g>
<g class="k" text-anchor="end">
  <text x="1258" y="1416">2</text><text x="1258" y="1510">0</text><text x="1258" y="1604">-2</text><text x="1258" y="1698">-4</text>
</g>
<g class="k" text-anchor="middle">
  <text x="1295" y="1801">-3</text><text x="1455.6" y="1801">-2</text><text x="1616" y="1801">-1</text><text x="1776.6" y="1801">0</text><text x="1937" y="1801">1</text><text x="2097.5" y="1801">2</text><text x="2258" y="1801">3</text>
</g>
<text class="a" x="1773" y="1841" text-anchor="middle">Standard Normal Distribution Quantiles</text>
<text class="a" transform="translate(1204,1562) rotate(-90)" text-anchor="middle">Sample Quantile Deviations</text>
</svg>
</body></html>
